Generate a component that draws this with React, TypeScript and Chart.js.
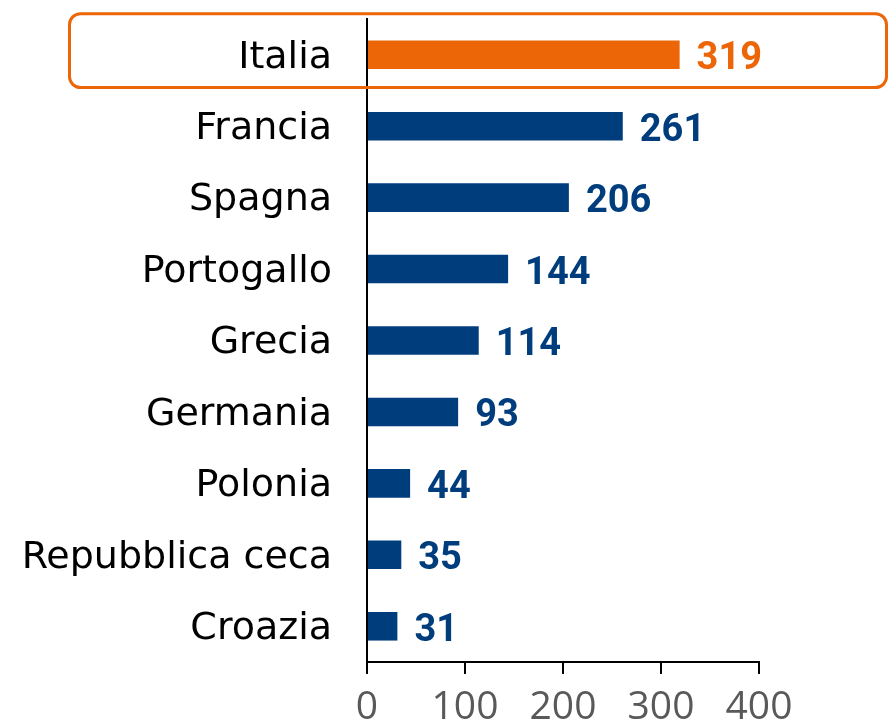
import React, { useEffect, useRef } from "react";
import { Chart, registerables } from "chart.js";

Chart.register(...registerables);

const categories = ["Italia", "Francia", "Spagna", "Portogallo", "Grecia", "Germania", "Polonia", "Repubblica ceca", "Croazia"];
const values = [319, 261, 206, 144, 114, 93, 44, 35, 31];
const xTickMin = 0;
const xTickMax = 400;
const xTickStep = 100;
const highlightIndex = 0;
const ORANGE = "#EC6608";
const BLUE = "#003D7D";
const barColors = categories.map((_, i) => (i === highlightIndex ? ORANGE : BLUE));
const LABEL_FONT = "'DejaVu Sans', sans-serif";
const VALUE_FONT = "Roboto, sans-serif";
const TICK_FONT = "'Open Sans', sans-serif";

const valueLabels = {
  id: "valueLabels",
  afterDatasetsDraw(chart: any) {
    const ctx = chart.ctx;
    const meta = chart.getDatasetMeta(0);
    ctx.save();
    ctx.font = `bold 38px ${VALUE_FONT}`;
    ctx.textBaseline = "alphabetic";
    ctx.textAlign = "left";
    meta.data.forEach((bar: any, i: number) => {
      ctx.fillStyle = barColors[i];
      ctx.fillText(String(values[i]), bar.x + 17, bar.y + 14.5);
    });
    ctx.restore();
  },
};

const highlightBox = {
  id: "highlightBox",
  afterDraw(chart: any) {
    const ctx = chart.ctx;
    const y = chart.scales.y;
    const x = chart.scales.x;
    const cy = y.getPixelForValue(highlightIndex);
    const half = (y.getPixelForValue(1) - y.getPixelForValue(0)) / 2;
    const left = x.left - 297.5;
    const right = chart.width - 1.5;
    const top = cy - half * 1.15;
    const bottom = cy + half * 0.92;
    const r = 11;
    ctx.save();
    ctx.strokeStyle = ORANGE;
    ctx.lineWidth = 3;
    ctx.beginPath();
    ctx.moveTo(left + r, top);
    ctx.lineTo(right - r, top);
    ctx.arcTo(right, top, right, top + r, r);
    ctx.lineTo(right, bottom - r);
    ctx.arcTo(right, bottom, right - r, bottom, r);
    ctx.lineTo(left + r, bottom);
    ctx.arcTo(left, bottom, left, bottom - r, r);
    ctx.lineTo(left, top + r);
    ctx.arcTo(left, top, left + r, top, r);
    ctx.closePath();
    ctx.stroke();
    ctx.restore();
  },
};

export default function App() {
  const ref = useRef<HTMLCanvasElement>(null);
  useEffect(() => {
    document.body.style.margin = "0";
    const chart = new Chart(ref.current!, {
      type: "bar",
      data: {
        labels: categories,
        datasets: [
          {
            data: values,
            backgroundColor: barColors,
            barPercentage: 0.4,
            categoryPercentage: 1,
          },
        ],
      },
      options: {
        indexAxis: "y",
        animation: false,
        responsive: false,
        layout: { padding: { top: 19, right: 129, left: 0, bottom: 0 } },
        plugins: { legend: { display: false }, tooltip: { enabled: false } },
        scales: {
          x: {
            min: xTickMin,
            max: xTickMax,
            ticks: { stepSize: xTickStep, color: "#595959", font: { family: TICK_FONT, size: 39 }, padding: 10, maxRotation: 0 },
            grid: { drawOnChartArea: false, drawTicks: true, tickLength: 12, color: "#000", lineWidth: 2 },
            border: { display: true, color: "#000", width: 2 },
            afterFit(axis: any) {
              axis.height = 63;
              axis.paddingLeft = 0;
              axis.paddingRight = 0;
            },
          },
          y: {
            ticks: { color: "#000", font: { family: LABEL_FONT, size: 38 }, padding: 35, labelOffset: 3 },
            grid: { display: false, drawTicks: false },
            border: { display: true, color: "#000", width: 2 },
            afterFit(axis: any) {
              axis.width = 367;
              axis.paddingTop = 0;
              axis.paddingBottom = 0;
            },
          },
        },
      } as any,
      plugins: [valueLabels, highlightBox],
    });
    return () => chart.destroy();
  }, []);
  return (
    <div style={{ position: "absolute", left: 0, top: 0, width: 888, height: 725 }}>
      <canvas ref={ref} width={888} height={725} />
    </div>
  );
}
